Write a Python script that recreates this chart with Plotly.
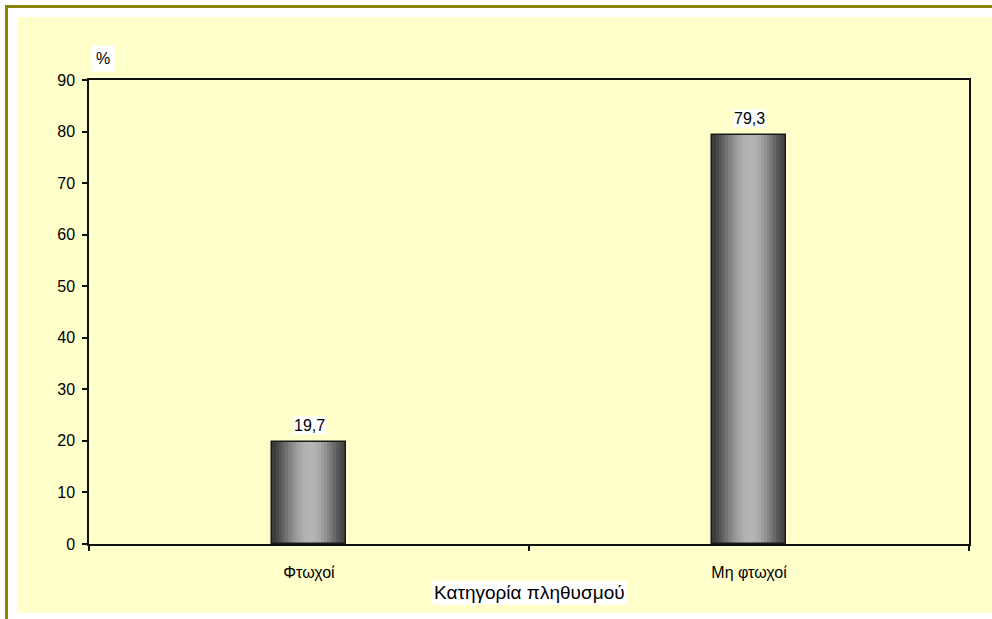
import plotly.graph_objects as go

categories = ["Φτωχοί", "Μη φτωχοί"]
values = [19.7, 79.3]
y_ticks = [0, 10, 20, 30, 40, 50, 60, 70, 80, 90]
x_title = "Κατηγορία πληθυσμού"
y_unit = "%"

W, H = 992, 619
L, R, T, B = 89, 969, 80, 544
BAR_W = 0.166
FONT = "Liberation Sans, Arial, sans-serif"

# gradient shades across bar width (dark edges, light centre)
shades = [60, 72, 86, 100, 114, 128, 140, 152, 162, 170, 176, 180, 182, 180,
          175, 168, 158, 146, 132, 118, 104, 90, 78, 68]
N = len(shades)

fig = go.Figure()
sw = BAR_W / N
for i, s in enumerate(shades):
    fig.add_trace(go.Bar(
        x=categories, y=values, width=sw * 1.08, offset=-BAR_W / 2 + i * sw,
        marker=dict(color=f"rgb({s},{s},{s})", line=dict(width=0)),
        hoverinfo="skip", showlegend=False))

# outline
fig.add_trace(go.Bar(
    x=categories, y=values, width=BAR_W, offset=-BAR_W / 2,
    marker=dict(color="rgba(0,0,0,0)", line=dict(color="#1a1a1a", width=1.5)),
    showlegend=False))

for c, v in zip(categories, values):
    fig.add_annotation(x=c, y=v, text=f"{v:.1f}".replace(".", ","),
                       showarrow=False, yanchor="bottom", yshift=7,
                       font=dict(family=FONT, size=16, color="black"),
                       bgcolor="white", borderpad=0)

def px(x):
    return (x - L) / (R - L)

def py(y):
    return (B - y) / (B - T)

shapes = [
    dict(type="rect", xref="paper", yref="paper", x0=px(17), x1=px(992),
         y0=py(613), y1=py(17), fillcolor="#FFFFCC", line=dict(width=0), layer="below"),
    dict(type="line", xref="paper", yref="paper", x0=px(6.5), x1=px(6.5),
         y0=py(5), y1=py(619), line=dict(color="#858500", width=3)),
    dict(type="line", xref="paper", yref="paper", x0=px(5), x1=px(992),
         y0=py(6.5), y1=py(6.5), line=dict(color="#858500", width=3)),
]

fig.add_annotation(xref="paper", yref="paper", x=px(103), y=py(58), text=y_unit,
                   xanchor="center", yanchor="middle",
                   showarrow=False, font=dict(family=FONT, size=16, color="black"),
                   bgcolor="white", borderpad=4)
fig.add_annotation(xref="paper", yref="paper", x=0.5, y=py(592), text=x_title,
                   xanchor="center", yanchor="middle",
                   showarrow=False, font=dict(family=FONT, size=19, color="black"),
                   bgcolor="white", borderpad=1)

fig.update_layout(
    width=W, height=H,
    margin=dict(l=L, r=W - R, t=T, b=H - B),
    paper_bgcolor="white", plot_bgcolor="#FFFFCC",
    barmode="overlay", bargap=0,
    separators=",.",
    shapes=shapes,
    font=dict(family=FONT, size=16, color="black"),
    xaxis=dict(type="category", showline=True, mirror=True, linecolor="#111",
               linewidth=1.5, ticks="outside", tickson="boundaries", ticklen=5,
               tickcolor="#111", tickwidth=1.5, showgrid=False, ticklabelstandoff=13,
               tickfont=dict(family=FONT, size=16, color="black"), range=[-0.5, 1.5]),
    yaxis=dict(range=[0, 90], tickvals=y_ticks, showline=True, mirror=True,
               linecolor="#111", linewidth=1.5, ticks="outside", ticklen=5,
               tickcolor="#111", tickwidth=1.5, showgrid=False, zeroline=False,
               ticklabelstandoff=4,
               tickfont=dict(family=FONT, size=16, color="black")),
)

fig.write_html("out.html", config={"displayModeBar": False},
               post_script="document.body.style.margin='0';document.body.style.overflow='hidden';")
